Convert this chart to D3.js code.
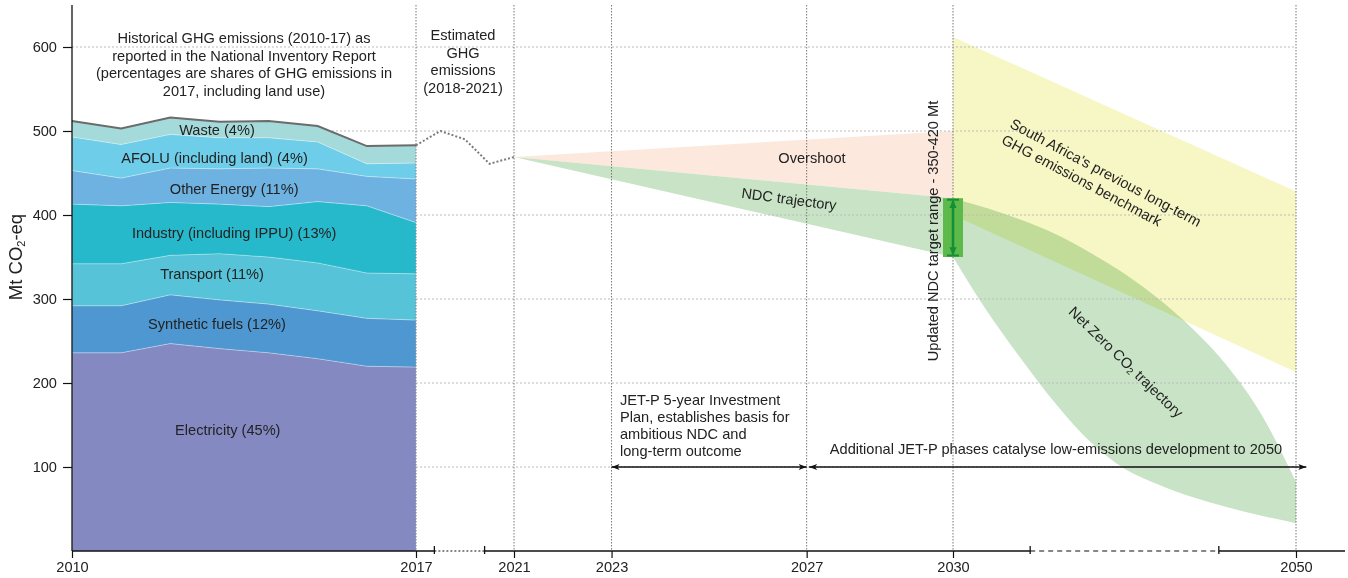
<!DOCTYPE html>
<html><head><meta charset="utf-8">
<script src="https://cdn.jsdelivr.net/npm/d3@7"></script>
<style>
body{margin:0;background:#fff;}
text{font-family:"Liberation Sans",Arial,Helvetica,sans-serif;fill:#222;}
</style></head>
<body><svg id="c" width="1348" height="578"></svg>
<script>
// ---------- data ----------
const years = [2010, 2011, 2012, 2013, 2014, 2015, 2016, 2017];
const electricity    = [236, 236, 247, 241, 236, 229, 220, 219];
const syntheticFuels = [56, 56, 58, 58, 58, 57, 57, 56];
const transport      = [50, 50, 47, 55, 56, 57, 54, 55];
const industry       = [71, 69, 63, 59, 60, 73, 80, 61];
const otherEnergy    = [40, 33, 41, 42, 46, 39, 35, 52];
const afolu          = [40, 40, 40, 37, 36, 32, 15, 19];
const waste          = [19, 19, 20, 19, 20, 19, 21, 21];
const sectorNames = ["Electricity (45%)", "Synthetic fuels (12%)", "Transport (11%)",
  "Industry (including IPPU) (13%)", "Other Energy (11%)", "AFOLU (including land) (4%)", "Waste (4%)"];

const estYears  = [2017, 2018, 2019, 2020, 2021];
const estValues = [483, 500, 490, 461, 469];

const trajYears = [2021, 2030];
const overshootUpper = [469, 500];
const overshootLower = [469, 420];
const ndcUpper = [469, 420];
const ndcLower = [469, 350];

const benchYears = [2030, 2050];
const benchUpper = [612, 428];
const benchLower = [400, 213];

const nzYears = [2030, 2032, 2034, 2036, 2038, 2040, 2042, 2044, 2046, 2048, 2050];
const nzUpper = [420, 408, 394, 377, 355, 330, 300, 264, 220, 162, 82];
const nzLower = [350, 285, 228, 175, 130, 98, 79, 64, 52, 42, 33];

const ndcTarget = [350, 420];

const xTicks = [2010, 2017, 2021, 2023, 2027, 2030, 2050];
const yTicks = [100, 200, 300, 400, 500, 600];
const axisBreaks = [[2017.75, 2019.8, "2,2"], [2034.5, 2045.5, "5,4"]];

// ---------- setup ----------
const svg = d3.select("#c");
const x = d3.scaleLinear().domain([2010, 2017, 2021, 2030, 2050]).range([72, 416, 514, 953, 1296]);
const y = d3.scaleLinear().domain([0, 600]).range([551, 47]);
const plotTop = 5, plotRight = 1345;
const FS = "14.6px";

const colors = ["#8489c2", "#4f97d0", "#56c3d8", "#26b9cb", "#6eb2e1", "#6ecde9", "#a4dada"];
const series = [electricity, syntheticFuels, transport, industry, otherEnergy, afolu, waste];

const band = (xs, lo, hi, curve) => d3.area()
  .x((d, i) => x(xs[i])).y0((d, i) => y(lo[i])).y1((d, i) => y(hi[i]))
  .curve(curve || d3.curveLinear)(xs);

// bands
svg.append("path").attr("d", band(trajYears, overshootLower, overshootUpper)).attr("fill", "#fde8de");
svg.append("path").attr("d", band(trajYears, ndcLower, ndcUpper)).attr("fill", "#c8e3c5");
svg.append("path").attr("d", band(benchYears, benchLower, benchUpper)).attr("fill", "#f7f6c5");
svg.append("path").attr("d", band(nzYears, nzLower, nzUpper, d3.curveMonotoneX))
  .attr("fill", "#c8e3c5").style("mix-blend-mode", "multiply");

// horizontal grid
svg.append("g").selectAll("line").data(yTicks).join("line")
  .attr("x1", x(2010)).attr("x2", x(2050)).attr("y1", d => y(d)).attr("y2", d => y(d))
  .attr("stroke", "#bbb").attr("stroke-width", 1).attr("stroke-dasharray", "2,2");

// stacked area
const table = years.map((yr, i) => {
  const o = {year: yr};
  series.forEach((s, k) => o["k" + k] = s[i]);
  return o;
});
const keys = series.map((s, k) => "k" + k);
const stacked = d3.stack().keys(keys)(table);
const area = d3.area().x(d => x(d.data.year)).y0(d => y(d[0])).y1(d => y(d[1]));
svg.append("g").selectAll("path").data(stacked).join("path")
  .attr("d", area).attr("fill", (d, i) => colors[i])
  .attr("stroke", "rgba(255,255,255,0.35)").attr("stroke-width", 0.8);
// top outline
svg.append("path").datum(stacked[stacked.length - 1])
  .attr("d", d3.line().x(d => x(d.data.year)).y(d => y(d[1])))
  .attr("fill", "none").attr("stroke", "#6b6b6b").attr("stroke-width", 2);

// estimated dotted line
svg.append("path").datum(estYears)
  .attr("d", d3.line().x(d => x(d)).y((d, i) => y(estValues[i])))
  .attr("fill", "none").attr("stroke", "#7a7a7a").attr("stroke-width", 2).attr("stroke-dasharray", "2,2");

// vertical grid lines
svg.append("g").selectAll("line").data(xTicks.slice(1)).join("line")
  .attr("x1", d => x(d)).attr("x2", d => x(d)).attr("y1", plotTop).attr("y2", y(0))
  .attr("stroke", "#777").attr("stroke-width", 1).attr("stroke-dasharray", "1.5,1.5");

// NDC target bar
const bx = x(2030);
svg.append("rect").attr("x", bx - 10).attr("width", 20)
  .attr("y", y(ndcTarget[1])).attr("height", y(ndcTarget[0]) - y(ndcTarget[1])).attr("fill", "#5cb94a");
const defs = svg.append("defs");
defs.append("marker").attr("id", "gArr").attr("viewBox", "0 -5 10 10").attr("refX", 9).attr("refY", 0)
  .attr("markerWidth", 8).attr("markerHeight", 8).attr("markerUnits", "userSpaceOnUse").attr("orient", "auto-start-reverse")
  .append("path").attr("d", "M0,-4.5L10,0L0,4.5Z").attr("fill", "#138f35");
svg.append("line").attr("x1", bx).attr("x2", bx).attr("y1", y(ndcTarget[1]) + 2.5).attr("y2", y(ndcTarget[0]) - 2.5)
  .attr("stroke", "#138f35").attr("stroke-width", 2.5)
  .attr("marker-start", "url(#gArr)").attr("marker-end", "url(#gArr)");
ndcTarget.forEach(v => svg.append("line").attr("x1", bx - 6).attr("x2", bx + 6)
  .attr("y1", y(v) + (v === ndcTarget[1] ? 1.5 : -1.5)).attr("y2", y(v) + (v === ndcTarget[1] ? 1.5 : -1.5))
  .attr("stroke", "#138f35").attr("stroke-width", 2));

// axes
const yAxis = svg.append("g").attr("transform", `translate(${x(2010)},0)`)
  .call(d3.axisLeft(y).tickValues(yTicks).tickSize(9).tickPadding(6));
yAxis.select(".domain").remove();
yAxis.selectAll("text").style("font-size", FS).attr("font-family", null);
yAxis.selectAll("line").attr("stroke", "#111").attr("stroke-width", 1.2);
svg.append("line").attr("x1", x(2010)).attr("x2", x(2010)).attr("y1", plotTop).attr("y2", y(0))
  .attr("stroke", "#111").attr("stroke-width", 1.3);

const xAxis = svg.append("g").attr("transform", `translate(0,${y(0)})`)
  .call(d3.axisBottom(x).tickValues(xTicks).tickFormat(d3.format("d")).tickSize(7).tickPadding(4));
xAxis.select(".domain").remove();
xAxis.selectAll("text").style("font-size", FS).attr("font-family", null);
xAxis.selectAll("line").attr("stroke", "#111").attr("stroke-width", 1.2);

// axis baseline with breaks
const segs = [[x(2010), x(axisBreaks[0][0]), null], [x(axisBreaks[0][0]), x(axisBreaks[0][1]), axisBreaks[0][2]],
  [x(axisBreaks[0][1]), x(axisBreaks[1][0]), null], [x(axisBreaks[1][0]), x(axisBreaks[1][1]), axisBreaks[1][2]],
  [x(axisBreaks[1][1]), plotRight, null]];
segs.forEach(s => svg.append("line").attr("x1", s[0]).attr("x2", s[1]).attr("y1", y(0)).attr("y2", y(0))
  .attr("stroke", "#111").attr("stroke-width", s[2] ? 1.2 : 1.6).attr("stroke-dasharray", s[2]));
axisBreaks.flatMap(b => [b[0], b[1]]).forEach(v => svg.append("line")
  .attr("x1", x(v)).attr("x2", x(v)).attr("y1", y(0) - 5).attr("y2", y(0) + 3)
  .attr("stroke", "#111").attr("stroke-width", 1.3));

// y axis title
const yt = svg.append("text").attr("transform", "translate(22,257) rotate(-90)")
  .attr("text-anchor", "middle").style("font-size", "18.5px");
yt.append("tspan").text("Mt CO");
yt.append("tspan").text("2").style("font-size", "11px").attr("dy", 3);
yt.append("tspan").text("-eq").attr("dy", -3);

// sector labels
const labelPos = [[2013.17, 144], [2012.95, 270], [2012.85, 330], [2013.3, 379], [2013.3, 431.5], [2012.9, 468.5], [2012.95, 501]];
svg.append("g").selectAll("text").data(sectorNames).join("text")
  .attr("x", (d, i) => x(labelPos[i][0])).attr("y", (d, i) => y(labelPos[i][1]))
  .attr("dy", "0.35em").attr("text-anchor", "middle").style("font-size", FS).text(d => d);

// multi-line annotation helper
function lines(tx, ty, arr, anchor, lh) {
  const t = svg.append("text").attr("text-anchor", anchor).style("font-size", FS);
  arr.forEach((s, i) => t.append("tspan").attr("x", tx).attr("y", ty + i * lh).text(s));
  return t;
}
lines(244, 43, ["Historical GHG emissions (2010-17) as", "reported in the National Inventory Report",
  "(percentages are shares of GHG emissions in", "2017, including land use)"], "middle", 17.5);
lines(463, 40, ["Estimated", "GHG", "emissions", "(2018-2021)"], "middle", 17.5);
lines(620, 405, ["JET-P 5-year Investment", "Plan, establishes basis for", "ambitious NDC and", "long-term outcome"], "start", 17);

svg.append("text").attr("x", 812).attr("y", 158).attr("dy", "0.35em").attr("text-anchor", "middle")
  .style("font-size", FS).text("Overshoot");
svg.append("text").attr("transform", "translate(789,199) rotate(7.5)").attr("dy", "0.35em")
  .attr("text-anchor", "middle").style("font-size", FS).text("NDC trajectory");
svg.append("text").attr("transform", "translate(933,231) rotate(-90)").attr("dy", "0.35em")
  .attr("text-anchor", "middle").style("font-size", FS).text("Updated NDC target range - 350-420 Mt");
const sa = svg.append("g").attr("transform", "translate(1009,127) rotate(28)");
sa.append("text").attr("x", 0).attr("y", 0).style("font-size", FS).text("South Africa's previous long-term");
sa.append("text").attr("x", 0).attr("y", 18).style("font-size", FS).text("GHG emissions benchmark");
const nz = svg.append("text").attr("transform", "translate(1126,362) rotate(44)").attr("dy", "0.35em")
  .attr("text-anchor", "middle").style("font-size", FS);
nz.append("tspan").text("Net Zero CO");
nz.append("tspan").text("2").style("font-size", "9.5px").attr("dy", 2);
nz.append("tspan").text(" trajectory").attr("dy", -2);

svg.append("text").attr("x", 1056).attr("y", 449).attr("dy", "0.35em").attr("text-anchor", "middle")
  .style("font-size", FS).text("Additional JET-P phases catalyse low-emissions development to 2050");

// phase arrows
defs.append("marker").attr("id", "bArr").attr("viewBox", "0 -5 10 10").attr("refX", 10).attr("refY", 0)
  .attr("markerWidth", 10).attr("markerHeight", 8).attr("markerUnits", "userSpaceOnUse").attr("orient", "auto-start-reverse")
  .append("path").attr("d", "M0,-3.8L10,0L0,3.8L2.5,0Z").attr("fill", "#111");
const arrows = [[2023, 2027], [2027.05, 2050.6]];
arrows.forEach(a => svg.append("line").attr("x1", x(a[0])).attr("x2", x(a[1]))
  .attr("y1", y(100)).attr("y2", y(100)).attr("stroke", "#111").attr("stroke-width", 1.7)
  .attr("marker-start", "url(#bArr)").attr("marker-end", "url(#bArr)"));
</script></body></html>
